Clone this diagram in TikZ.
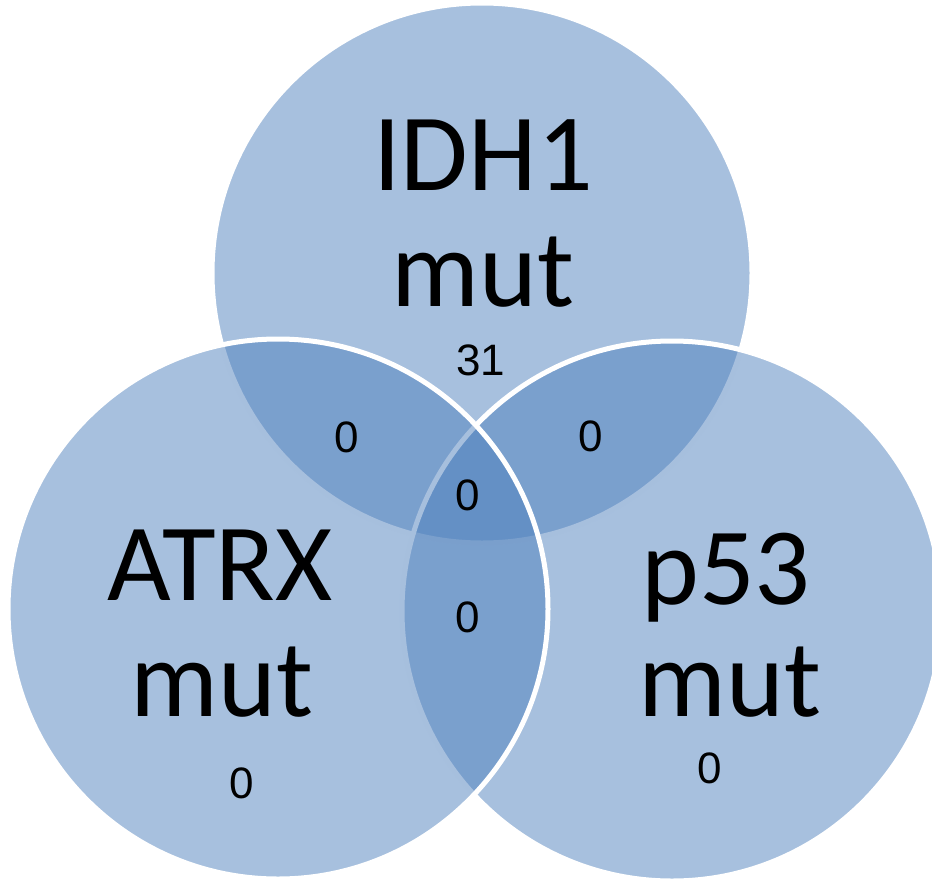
\documentclass[tikz,border=0pt]{standalone}
\usepackage{fontspec}
\setmainfont{Carlito}
\newfontfamily\numfont{Liberation Sans}
\definecolor{vennblue}{HTML}{4F81BD}

\begin{document}
\begin{tikzpicture}[x=1pt, y=-1pt]
    \tikzstyle{set}=[circle, fill=vennblue, fill opacity=0.5, draw=white, line width=5pt, minimum size=540pt, inner sep=0pt]
    \tikzstyle{setname}=[font=\fontsize{110}{110}\selectfont, anchor=base, inner sep=0pt]
    \tikzstyle{count}=[font=\numfont\fontsize{44}{44}\selectfont, inner sep=0pt]

    \useasboundingbox (0,0) rectangle (932,881);

    % Draw the three sets (top first, left last)
    \node[set] (S-idh) at (482,273) {};
    \node[set] (S-p53) at (672,611) {};
    \node[set] (S-atrx) at (278,609) {};

    % Names of the sets, one line at a time
    \foreach \name / \x / \y / \txt in {idh/483/190/IDH1, idhmut/483/306/mut,
                                        atrx/220/600/ATRX, atrxmut/222/716/mut,
                                        p53/726/604/p53, p53mut/730/716/mut}
        \node[setname] (N-\name) at (\x,\y) {\txt};

    % Counts in every region
    \foreach \name / \x / \y / \n in {idh/481/360/31, atrx/242/783/0, p53/710/768/0,
                                      ia/347/437/0, ip/591/436/0, ap/468/617/0,
                                      iap/468/495/0}
        \node[count] (C-\name) at (\x,\y) {\n};
\end{tikzpicture}
\end{document}
